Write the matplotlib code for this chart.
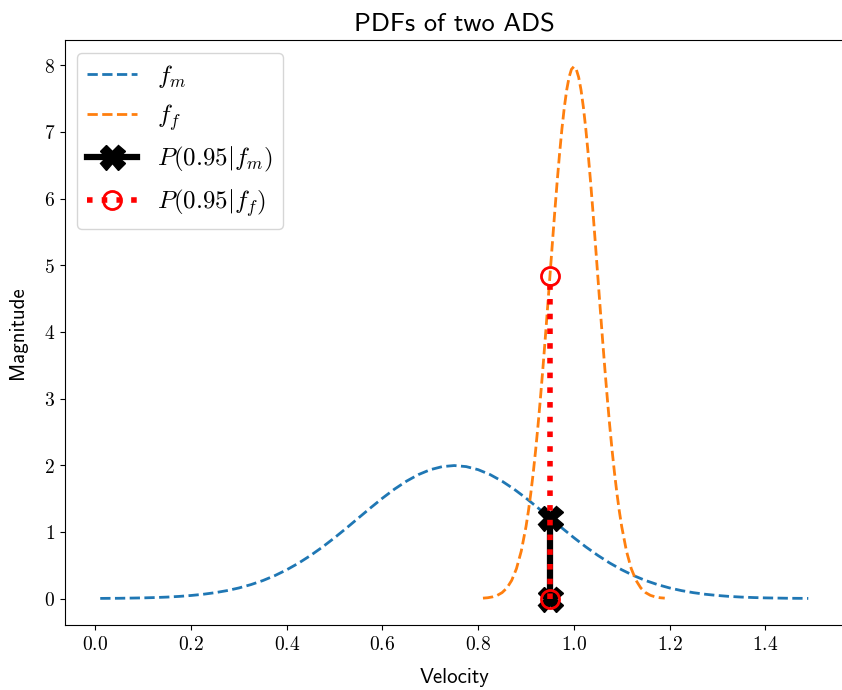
import matplotlib
matplotlib.use("Agg")
import matplotlib.pyplot as plt
from matplotlib.ticker import FormatStrFormatter

plt.rcParams['mathtext.fontset'] = 'cm'

# f_m curve
xm = [0.01, 0.025, 0.05, 0.075, 0.10, 0.125, 0.15, 0.175, 0.20, 0.225,
      0.25, 0.275, 0.30, 0.325, 0.35, 0.375, 0.40, 0.425, 0.45, 0.475,
      0.50, 0.525, 0.55, 0.575, 0.60, 0.625, 0.65, 0.675, 0.70, 0.725,
      0.75, 0.775, 0.80, 0.825, 0.85, 0.875, 0.90, 0.925, 0.95, 0.975,
      1.00, 1.025, 1.05, 1.075, 1.10, 1.125, 1.15, 1.175, 1.20, 1.225,
      1.25, 1.275, 1.30, 1.325, 1.35, 1.375, 1.40, 1.425, 1.45, 1.475, 1.49]
ym = [0.002, 0.003, 0.004, 0.007, 0.010, 0.015, 0.022, 0.032, 0.046, 0.064,
      0.088, 0.119, 0.159, 0.209, 0.270, 0.344, 0.432, 0.533, 0.648, 0.775,
      0.913, 1.059, 1.210, 1.360, 1.506, 1.641, 1.760, 1.859, 1.933, 1.979,
      1.995, 1.979, 1.933, 1.859, 1.760, 1.641, 1.506, 1.360, 1.210, 1.059,
      0.913, 0.775, 0.648, 0.533, 0.432, 0.344, 0.270, 0.209, 0.159, 0.119,
      0.088, 0.064, 0.046, 0.032, 0.022, 0.015, 0.010, 0.007, 0.004, 0.003, 0.002]

# f_f curve
xf = [0.81, 0.82, 0.83, 0.84, 0.85, 0.86, 0.87, 0.88, 0.89, 0.90,
      0.905, 0.91, 0.915, 0.92, 0.925, 0.93, 0.935, 0.94, 0.945, 0.95,
      0.955, 0.96, 0.965, 0.97, 0.975, 0.98, 0.985, 0.99, 0.995, 1.00,
      1.005, 1.01, 1.015, 1.02, 1.025, 1.03, 1.035, 1.04, 1.045, 1.05,
      1.055, 1.06, 1.065, 1.07, 1.075, 1.08, 1.085, 1.09, 1.095, 1.10,
      1.11, 1.12, 1.13, 1.14, 1.15, 1.16, 1.17, 1.18, 1.19]
yf = [0.006, 0.012, 0.025, 0.048, 0.089, 0.158, 0.272, 0.448, 0.710, 1.080,
      1.312, 1.579, 1.881, 2.218, 2.590, 2.995, 3.427, 3.884, 4.357, 4.839,
      5.322, 5.794, 6.245, 6.665, 7.041, 7.365, 7.628, 7.821, 7.939, 7.979,
      7.939, 7.821, 7.628, 7.365, 7.041, 6.665, 6.245, 5.794, 5.322, 4.839,
      4.357, 3.884, 3.427, 2.995, 2.590, 2.218, 1.881, 1.579, 1.312, 1.080,
      0.710, 0.448, 0.272, 0.158, 0.089, 0.048, 0.025, 0.012, 0.006]

# likelihoods at v = 0.95
v = 0.95
p_m = 1.21
p_f = 4.84

fig = plt.figure(figsize=(8.42, 6.9), dpi=100)
ax = fig.add_subplot(111)
fig.subplots_adjust(left=0.077, right=1.002, bottom=0.094, top=0.942)

ax.plot(xm, ym, '--', color='tab:blue', linewidth=2, label=r'$f_m$')
ax.plot(xf, yf, '--', color='tab:orange', linewidth=2, label=r'$f_f$')
ax.plot([v, v], [0, p_m], '-X', color='black', linewidth=4.5, markersize=18,
        label=r'$P(0.95|f_m)$')
ax.plot([v, v], [0, p_f], ':o', color='red', linewidth=4, markersize=13,
        markerfacecolor='none', markeredgewidth=2, label=r'$P(0.95|f_f)$')

ax.set_title('PDFs of two ADS', fontfamily='cmss10', fontsize=19)
ax.set_xlabel('Velocity', fontfamily='cmss10', fontsize=15, labelpad=10)
ax.set_ylabel('Magnitude', fontfamily='cmss10', fontsize=15, labelpad=12)
ax.xaxis.set_major_formatter(FormatStrFormatter('$%.1f$'))
ax.yaxis.set_major_formatter(FormatStrFormatter('$%d$'))
ax.tick_params(labelsize=14)
ax.spines['right'].set_visible(False)

ax.legend(loc='upper left', fontsize=18)

fig.savefig("out.png")
